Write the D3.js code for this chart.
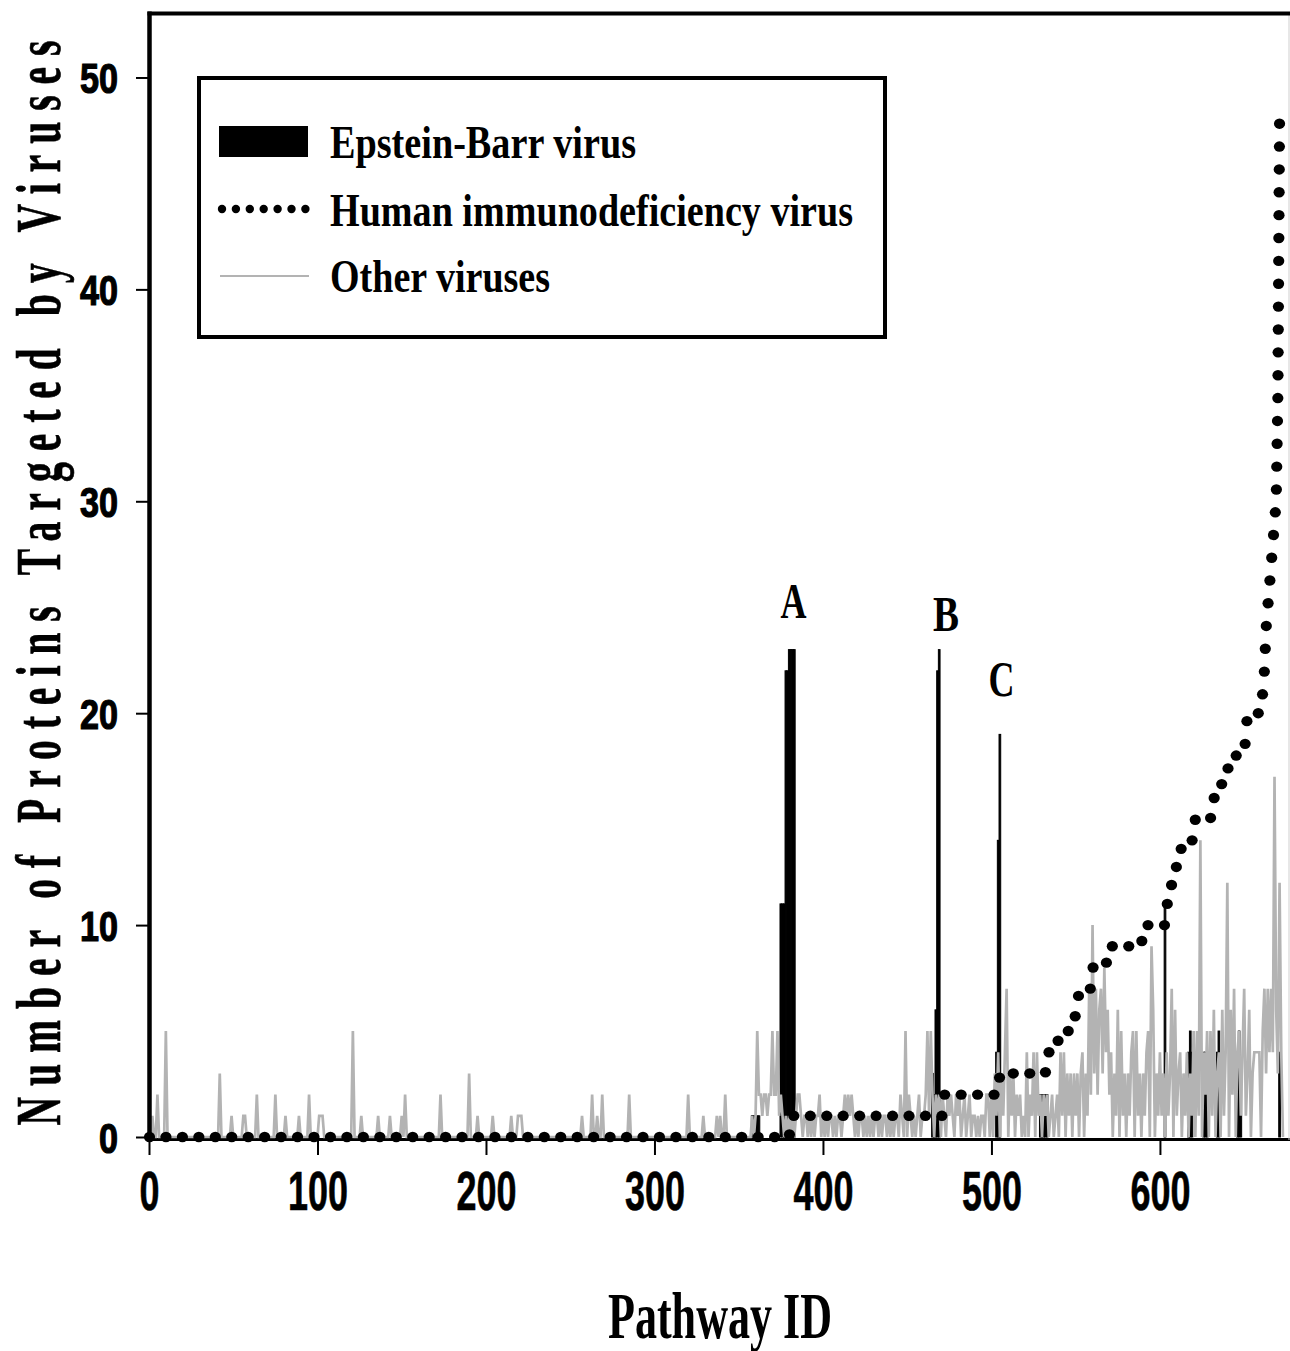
<!DOCTYPE html>
<html><head><meta charset="utf-8">
<script src="https://cdn.jsdelivr.net/npm/d3@7"></script>
<style>html,body{margin:0;padding:0;background:#fff}svg{display:block}</style>
</head><body>
<svg id="chart" width="1290" height="1351"></svg>
<script>
// ---------------- data ----------------
const seriesNames = ["Epstein-Barr virus", "Human immunodeficiency virus", "Other viruses"];
const xTicks = [0, 100, 200, 300, 400, 500, 600];
const yTicks = [0, 10, 20, 30, 40, 50];
const xTitle = "Pathway ID";
const yTitle = "Number of Proteins Targeted by Viruses";

// Epstein-Barr virus (non-zero pathways)
const ebvIds    = [358,359,360,361,362, 375,376,377,378,379,380,381,382,383, 465,466,467,468,469, 503,504,505, 529,530,531,532,533, 603, 617,618,619, 626,627,628, 634,635, 646,647,648, 671];
const ebvValues = [1,1,1,1,1, 11,11,11,22,22,23,23,23,23, 3,2,6,22,23, 4,14,19, 2,2,2,2,2, 11, 4,5,4, 4,4,4, 4,5, 4,5,3, 4];

// Human immunodeficiency virus: first pathway of each run and its count
const hivRunStart = [0, 381, 472, 505, 533, 540, 550, 552, 560, 569, 590, 604, 607, 610, 613, 621, 631, 637, 641, 651, 652, 661, 662, 663, 664, 665, 666, 667, 668, 669, 670, 671];
const hivRunValue = [0, 1,   2,   3,   4,   5,   6,   7,   8,   9,   10,  11,  12,  13,  14,  15,  16,  17,  18,  19,  20,  21,  22,  24,  25,  26,  27,  28,  29,  30,  35,  48];
const hivLastId = 671;

// Other viruses, pathways 0-349 (non-zero only)
const otherSparseIds    = [2,5,10,42,49,56,57,64,75,81,89,95,101,102,103,121,126,136,143,150,152,173,190,195,204,215,219,220,221,257,263,266,269,285,320,329,337,339,342];
const otherSparseValues = [1,2,5,3,1,1,1,2,2,1,1,2,1,1,1,5,1,1,1,1,2,2,3,1,1,1,1,1,1,1,2,1,2,2,2,1,1,1,2];
// Other viruses, pathways 350-673 (every pathway)
const otherDenseStart = 350;
const otherDenseValues = [
  0,0,0,0,0,0,0,0,1,0,   // 350
  1,5,2,2,1,2,2,1,2,2,   // 360
  5,2,2,5,1,2,1,0,1,0,   // 370
  1,0,1,0,1,2,2,1,0,1,   // 380
  1,0,1,0,1,0,1,1,2,0,   // 390
  1,0,1,0,1,1,0,1,0,1,   // 400
  1,0,1,2,1,2,1,2,1,0,   // 410
  1,0,1,1,0,1,0,1,0,1,   // 420
  0,1,1,0,1,0,1,1,0,1,   // 430
  0,1,0,1,1,0,2,1,0,5,   // 440
  0,2,1,0,1,0,1,2,0,1,   // 450
  1,2,5,1,5,2,0,2,1,2,   // 460
  0,2,1,0,2,1,2,1,0,2,   // 470
  1,2,0,1,2,0,1,2,0,1,   // 480
  1,0,1,0,1,1,0,2,2,0,   // 490
  2,0,3,1,4,0,3,1,4,7,   // 500
  0,3,1,3,0,2,1,2,0,1,   // 510
  0,4,0,2,1,4,0,4,1,2,   // 520
  0,2,1,2,0,1,2,0,1,2,   // 530
  0,4,1,4,0,3,1,3,0,3,   // 540
  1,3,0,3,4,0,3,1,7,2,   // 550
  10,3,7,2,6,7,3,8,4,6,  // 560
  2,4,0,3,1,6,0,5,1,3,   // 570
  0,3,1,4,5,0,5,1,3,0,   // 580
  3,1,4,5,0,9,6,0,3,1,   // 590
  4,1,3,0,4,1,3,7,0,6,   // 600
  1,3,4,0,3,1,4,0,3,1,   // 610
  5,0,5,1,14,0,4,2,5,0,  // 620
  5,1,6,0,3,4,0,6,1,4,   // 630
  12,0,6,2,7,0,4,5,1,4,  // 640
  7,1,3,6,0,3,4,4,4,4,   // 650
  0,5,7,3,7,4,7,4,17,6,  // 660
  3,12,4,0               // 670
];

// Annotations (label, pathway, count at label baseline)
const annLabels = ["A", "B", "C"];
const annIds    = [382.5, 473, 506];
const annValues = [24.5, 23.9, 20.8];

// ---------------- build series ----------------
const ebv = ebvIds.map((id, i) => ({id, v: ebvValues[i]}));
const other = [];
for (let i = 0; i < otherDenseStart; i++) other.push({id: i, v: 0});
otherSparseIds.forEach((id, k) => { other[id].v = otherSparseValues[k]; });
otherDenseValues.forEach((v, k) => other.push({id: otherDenseStart + k, v}));
const hiv = [];
hivRunStart.forEach((s, i) => {
  const e = i < hivRunStart.length - 1 ? hivRunStart[i + 1] - 1 : hivLastId;
  hiv.push({id: s, v: hivRunValue[i]});
  if (e > s) hiv.push({id: e, v: hivRunValue[i]});
});

// ---------------- drawing ----------------
const svg = d3.select("#chart");
const serif = "'Liberation Serif','Times New Roman',serif";
const sans = "'Liberation Sans',Arial,sans-serif";
const GRAY = "#b3b3b3";

const x = d3.scaleLinear().domain([0, 676.6]).range([149, 1289]);
const y = d3.scaleLinear().domain([0, 53]).range([1137, 13.9]);

// frame / axes lines
svg.append("line").attr("x1", 149).attr("x2", 1290).attr("y1", 1139.5).attr("y2", 1139.5)
  .attr("stroke", "#000").attr("stroke-width", 3);
svg.append("line").attr("x1", 1289).attr("x2", 1289).attr("y1", 13).attr("y2", 1140)
  .attr("stroke", "#cfcfcf").attr("stroke-width", 1);

// y axis
const gy = svg.append("g").attr("transform", "translate(149,0)")
  .call(d3.axisLeft(y).tickValues(yTicks).tickSize(13).tickFormat(d3.format("d")));
gy.select(".domain").remove();
gy.selectAll(".tick line").attr("stroke", "#000").attr("stroke-width", 2);
gy.selectAll(".tick text")
  .attr("x", -31).attr("dy", "0.36em")
  .attr("font-family", sans).attr("font-weight", "bold").attr("font-size", 42)
  .attr("fill", "#000").attr("text-anchor", "end")
  .attr("stroke", "#000").attr("stroke-width", 1.2)
  .attr("textLength", d => String(d).length * 19).attr("lengthAdjust", "spacingAndGlyphs");

// x axis
const gx = svg.append("g").attr("transform", "translate(0,1138)")
  .call(d3.axisBottom(x).tickValues(xTicks).tickSize(17).tickFormat(d3.format("d")));
gx.select(".domain").remove();
gx.selectAll(".tick line").attr("stroke", "#000").attr("stroke-width", 2);
gx.selectAll(".tick text")
  .attr("y", 72).attr("dy", null)
  .attr("font-family", sans).attr("font-weight", "bold").attr("font-size", 56)
  .attr("fill", "#000").attr("text-anchor", "middle")
  .attr("stroke", "#000").attr("stroke-width", 0.6)
  .attr("textLength", d => String(d).length * 20).attr("lengthAdjust", "spacingAndGlyphs");

// EBV bars
const bw = x(1) - x(0);
svg.append("g").selectAll("rect").data(ebv).join("rect")
  .attr("x", d => x(d.id) - bw / 2).attr("width", bw)
  .attr("y", d => y(d.v)).attr("height", d => y(0) - y(d.v))
  .attr("fill", "#000").attr("stroke", "#000").attr("stroke-width", 1);

// Other viruses line
svg.append("path").datum(other)
  .attr("d", d3.line().x(d => x(d.id)).y(d => y(d.v)))
  .attr("fill", "none").attr("stroke", GRAY).attr("stroke-width", 2.7)
  .attr("stroke-linejoin", "miter").attr("stroke-miterlimit", 10);

// HIV dotted line (dots placed along the data path)
(function () {
  const pts = hiv.map(d => [x(d.id), y(d.v)]);
  const K = 1.39, STEP = 16.45;
  let next = 0.5, acc = 0;
  const dots = [];
  for (let i = 0; i < pts.length - 1; i++) {
    const [x0, y0] = pts[i], [x1, y1] = pts[i + 1];
    const dx = x1 - x0, dy = y1 - y0;
    const L = Math.sqrt(dx * dx + (dy / K) * (dy / K));
    while (L > 0 && next <= acc + L) {
      const t = (next - acc) / L;
      dots.push([x0 + t * dx, y0 + t * dy]);
      next += STEP;
    }
    acc += L;
  }
  svg.append("g").selectAll("ellipse").data(dots).join("ellipse")
    .attr("cx", d => d[0]).attr("cy", d => d[1]).attr("rx", 5.6).attr("ry", 5.2).attr("fill", "#000");
})();

// left axis line and top border
svg.append("line").attr("x1", 149.5).attr("x2", 149.5).attr("y1", 11.5).attr("y2", 1141)
  .attr("stroke", "#000").attr("stroke-width", 4.5);
svg.append("line").attr("x1", 147.5).attr("x2", 1290).attr("y1", 13.5).attr("y2", 13.5)
  .attr("stroke", "#000").attr("stroke-width", 4);

// annotations
svg.append("g").selectAll("text").data(annLabels).join("text")
  .attr("x", (d, i) => x(annIds[i])).attr("y", (d, i) => y(annValues[i]))
  .attr("text-anchor", "middle").attr("font-family", serif).attr("font-weight", "bold")
  .attr("font-size", 50).attr("fill", "#000")
  .attr("textLength", 26).attr("lengthAdjust", "spacingAndGlyphs")
  .text(d => d);

// axis titles
svg.append("text").attr("x", 720).attr("y", 1338).attr("text-anchor", "middle")
  .attr("font-family", serif).attr("font-weight", "bold").attr("font-size", 66)
  .attr("textLength", 224).attr("lengthAdjust", "spacingAndGlyphs").text(xTitle);
svg.append("text")
  .attr("transform", "translate(60,583) rotate(-90) scale(0.62,1)")
  .attr("text-anchor", "middle")
  .attr("font-family", serif).attr("font-weight", "bold").attr("font-size", 64)
  .attr("stroke", "#000").attr("stroke-width", 0.6)
  .attr("textLength", 1085 / 0.62).attr("lengthAdjust", "spacing").text(yTitle);

// legend
const lg = svg.append("g");
lg.append("rect").attr("x", 199).attr("y", 78).attr("width", 686).attr("height", 259)
  .attr("fill", "#fff").attr("stroke", "#000").attr("stroke-width", 4);
lg.append("rect").attr("x", 219).attr("y", 126).attr("width", 89).attr("height", 31).attr("fill", "#000");
lg.append("g").selectAll("circle").data(d3.range(7)).join("circle")
  .attr("cx", i => 222 + i * 13.9).attr("cy", 209).attr("r", 4.2).attr("fill", "#000");
lg.append("line").attr("x1", 220).attr("x2", 309).attr("y1", 276).attr("y2", 276)
  .attr("stroke", GRAY).attr("stroke-width", 2);
const legendBase = [158, 226, 292];
const legendLen = [306, 523, 220];
lg.selectAll("text.lt").data(seriesNames).join("text").attr("class", "lt")
  .attr("x", 330).attr("y", (d, i) => legendBase[i])
  .attr("font-family", serif).attr("font-weight", "bold").attr("font-size", 46).attr("fill", "#000")
  .attr("textLength", (d, i) => legendLen[i]).attr("lengthAdjust", "spacingAndGlyphs")
  .text(d => d);
</script>
</body></html>
